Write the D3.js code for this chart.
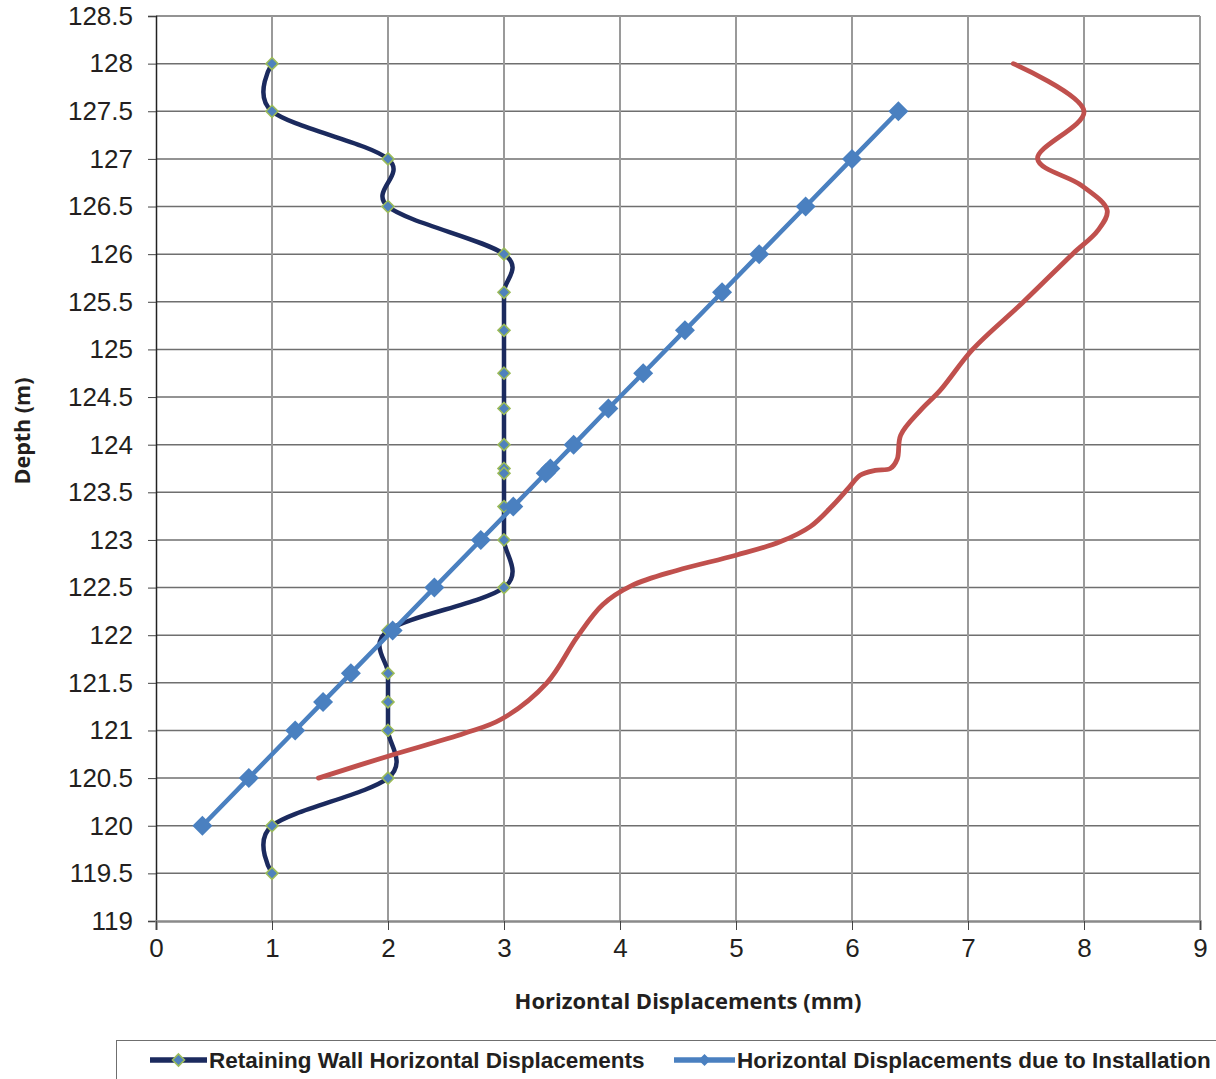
<!DOCTYPE html>
<html>
<head>
<meta charset="utf-8">
<script src="https://cdn.jsdelivr.net/npm/d3@7"></script>
<style>
  body { margin: 0; background: #fff; }
  svg { display: block; }
</style>
</head>
<body>
<svg id="chart" width="1216" height="1079"></svg>
<script>
// Retaining wall displacements (dark navy, smoothed, small markers)
const wallDepth = [128, 127.5, 127, 126.5, 126, 125.6, 125.2, 124.75, 124.38, 124, 123.75, 123.7, 123.35, 123, 122.5, 122.05, 121.6, 121.3, 121, 120.5, 120, 119.5];
const wallDisp  = [1, 1, 2, 2, 3, 3, 3, 3, 3, 3, 3, 3, 3, 3, 3, 2, 2, 2, 2, 2, 1, 1];

// Displacements due to installation (blue, straight, big markers)
const installDepth = [127.5, 127, 126.5, 126, 125.6, 125.2, 124.75, 124.38, 124, 123.75, 123.7, 123.35, 123, 122.5, 122.05, 121.6, 121.3, 121, 120.5, 120];
const installDisp  = [6.4, 6, 5.6, 5.2, 4.88, 4.56, 4.2, 3.9, 3.6, 3.4, 3.36, 3.08, 2.8, 2.4, 2.04, 1.68, 1.44, 1.2, 0.8, 0.4];

// Measured curve (red, smoothed, no markers, not in legend)
const measuredDepth = [120.5, 120.73, 120.97, 121.12, 121.5, 121.98, 122.32, 122.52, 122.68, 122.84, 122.98, 123.14, 123.37, 123.56, 123.68, 123.73, 123.75, 123.85, 124.1, 124.36, 124.57, 125, 125.49, 126, 126.25, 126.46, 126.72, 127, 127.5, 128];
const measuredDisp  = [1.4, 2.0, 2.66, 2.98, 3.37, 3.63, 3.85, 4.1, 4.49, 5.0, 5.38, 5.64, 5.84, 5.98, 6.07, 6.2, 6.33, 6.39, 6.42, 6.59, 6.76, 7.04, 7.47, 7.9, 8.12, 8.2, 7.98, 7.6, 8.0, 7.39];

const xTicks = [0, 1, 2, 3, 4, 5, 6, 7, 8, 9];
const yTicks = [119, 119.5, 120, 120.5, 121, 121.5, 122, 122.5, 123, 123.5, 124, 124.5, 125, 125.5, 126, 126.5, 127, 127.5, 128, 128.5];

const svg = d3.select("#chart");

const x = d3.scaleLinear().domain([0, 9]).range([156, 1200]);
const y = d3.scaleLinear().domain([119, 128.5]).range([921, 16]);

// gridlines
svg.append("g")
    .selectAll("line")
    .data(yTicks.slice(1))
    .join("line")
    .attr("x1", x(0)).attr("x2", x(9))
    .attr("y1", d => y(d)).attr("y2", d => y(d))
    .attr("stroke", "#6f6f6f")
    .attr("stroke-width", 1.5);

svg.append("g")
    .selectAll("line")
    .data(xTicks.slice(1))
    .join("line")
    .attr("x1", d => x(d)).attr("x2", d => x(d))
    .attr("y1", y(128.5)).attr("y2", y(119))
    .attr("stroke", "#9a9a9a")
    .attr("stroke-width", 2);

// y axis
const yAxis = svg.append("g")
    .attr("transform", "translate(" + x(0) + ",0)")
    .call(d3.axisLeft(y).tickValues(yTicks).tickFormat(d => String(d)).tickSize(8).tickPadding(15));
yAxis.select(".domain").attr("stroke", "#222").attr("stroke-width", 1.5);
yAxis.selectAll(".tick line").attr("stroke", "#444");
yAxis.selectAll("text")
    .attr("font-family", "Liberation Sans, Arial, sans-serif")
    .attr("font-size", 26)
    .attr("fill", "#231f20");

// x axis
const xAxis = svg.append("g")
    .attr("transform", "translate(0," + y(119) + ")")
    .call(d3.axisBottom(x).tickValues(xTicks).tickSize(9).tickPadding(9));
xAxis.select(".domain").attr("stroke", "#8a8a8a").attr("stroke-width", 2.5);
xAxis.selectAll(".tick line").attr("stroke", "#444");
xAxis.selectAll("text")
    .attr("font-family", "Liberation Sans, Arial, sans-serif")
    .attr("font-size", 26)
    .attr("fill", "#231f20");

// axis titles
svg.append("text")
    .attr("x", 688).attr("y", 1009)
    .attr("text-anchor", "middle")
    .attr("font-family", "Open Sans, sans-serif")
    .attr("font-weight", "bold")
    .attr("font-size", 22)
    .attr("fill", "#231f20")
    .text("Horizontal Displacements (mm)");

svg.append("text")
    .attr("transform", "translate(30,431) rotate(-90)")
    .attr("text-anchor", "middle")
    .attr("font-family", "Open Sans, sans-serif")
    .attr("font-weight", "bold")
    .attr("font-size", 21.5)
    .attr("fill", "#231f20")
    .text("Depth (m)");

const diamond = r => "M0," + (-r) + "L" + r + ",0L0," + r + "L" + (-r) + ",0Z";

// retaining wall series
const wall = wallDepth.map((d, i) => ({ depth: d, disp: wallDisp[i] }));
const smooth = d3.line().x(d => x(d.disp)).y(d => y(d.depth)).curve(d3.curveCardinal.tension(0));

svg.append("path")
    .datum(wall)
    .attr("d", smooth)
    .attr("fill", "none")
    .attr("stroke", "#1b2a5e")
    .attr("stroke-width", 4.5);

svg.append("g")
    .selectAll("path")
    .data(wall)
    .join("path")
    .attr("transform", d => "translate(" + x(d.disp) + "," + y(d.depth) + ")")
    .attr("d", diamond(6))
    .attr("fill", "#4f81bd")
    .attr("stroke", "#9bbb59")
    .attr("stroke-width", 1.6);

// installation series
const install = installDepth.map((d, i) => ({ depth: d, disp: installDisp[i] }));
svg.append("path")
    .datum(install)
    .attr("d", d3.line().x(d => x(d.disp)).y(d => y(d.depth)))
    .attr("fill", "none")
    .attr("stroke", "#4a80c0")
    .attr("stroke-width", 4.5);

svg.append("g")
    .selectAll("path")
    .data(install)
    .join("path")
    .attr("transform", d => "translate(" + x(d.disp) + "," + y(d.depth) + ")")
    .attr("d", diamond(10))
    .attr("fill", "#4a80c0");

// measured curve
const measured = measuredDepth.map((d, i) => ({ depth: d, disp: measuredDisp[i] }));
svg.append("path")
    .datum(measured)
    .attr("d", d3.line().x(d => x(d.disp)).y(d => y(d.depth)).curve(d3.curveCatmullRom.alpha(0.5)))
    .attr("fill", "none")
    .attr("stroke", "#c0504d")
    .attr("stroke-width", 4.8)
    .attr("stroke-linecap", "round");

// legend
const legend = svg.append("g");
legend.append("rect")
    .attr("x", 116.5).attr("y", 1040.5)
    .attr("width", 1130).attr("height", 60)
    .attr("fill", "#fff")
    .attr("stroke", "#6f6f6f")
    .attr("stroke-width", 1);

const legendItems = [
    { label: "Retaining Wall Horizontal Displacements", x0: 150, x1: 207, color: "#1b2a5e", fill: "#4f81bd", edge: "#9bbb59" },
    { label: "Horizontal Displacements due to Installation", x0: 674, x1: 735, color: "#4a80c0", fill: "#4a80c0", edge: "none" }
];
legendItems.forEach(item => {
    legend.append("line")
        .attr("x1", item.x0).attr("x2", item.x1)
        .attr("y1", 1060).attr("y2", 1060)
        .attr("stroke", item.color)
        .attr("stroke-width", 5.5);
    legend.append("path")
        .attr("transform", "translate(" + ((item.x0 + item.x1) / 2) + ",1060)")
        .attr("d", diamond(6))
        .attr("fill", item.fill)
        .attr("stroke", item.edge)
        .attr("stroke-width", 1.6);
    legend.append("text")
        .attr("x", item.x1 + 2).attr("y", 1060)
        .attr("dy", "0.35em")
        .attr("font-family", "Liberation Sans, Arial, sans-serif")
        .attr("font-weight", "bold")
        .attr("font-size", 22.5)
        .attr("fill", "#231f20")
        .text(item.label);
});
</script>
</body>
</html>
